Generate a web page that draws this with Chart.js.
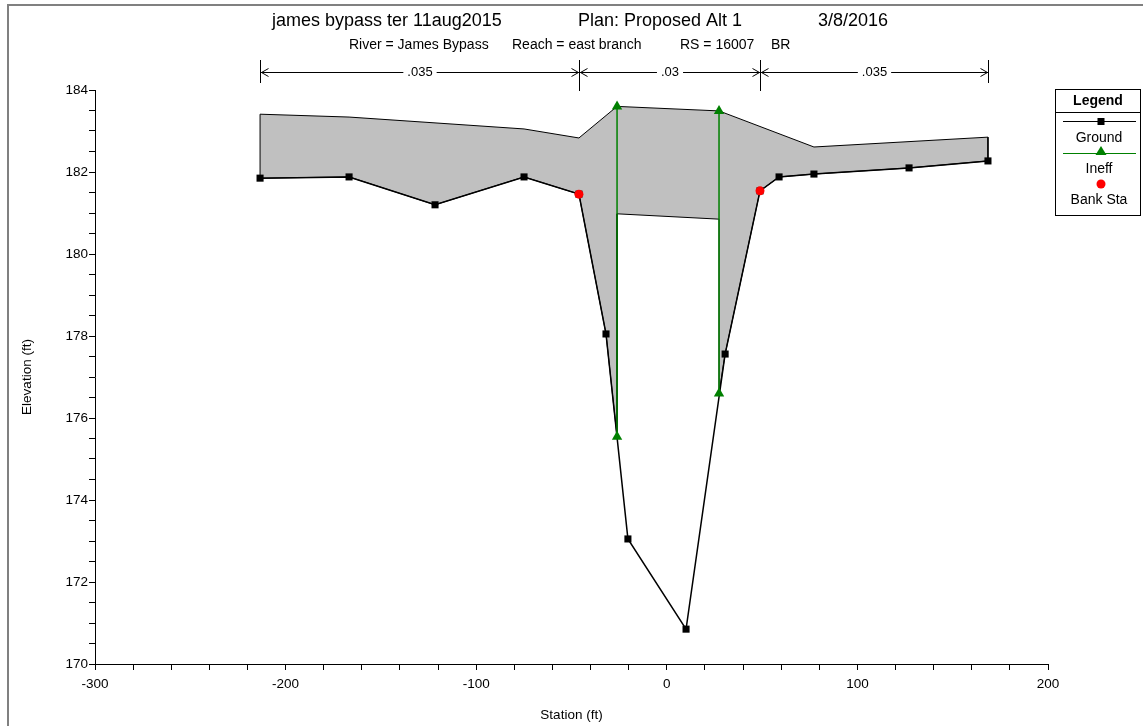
<!DOCTYPE html>
<html>
<head>
<meta charset="utf-8">
<script src="https://cdn.jsdelivr.net/npm/chart.js@4.4.1/dist/chart.umd.min.js"></script>
<style>
  html, body { margin: 0; padding: 0; background: #fff; }
  #xs { display: block; }
</style>
</head>
<body>
<canvas id="xs" width="1143" height="726"></canvas>
<script>
// cross section, station (ft) / elevation (ft)
const groundSta = [-213.4, -166.7, -121.6, -74.9, -46.1, -31.9, -20.4, 10.1, 30.6, 48.9, 58.9, 77.2, 127.1, 168.5];
const groundElev = [181.85, 181.88, 181.2, 181.88, 181.46, 178.05, 173.05, 170.85, 177.56, 181.54, 181.88, 181.95, 182.1, 182.27];
const bankSta = [-46.1, 48.9];
const bankElev = [181.46, 181.54];
const ineffSta = [-26.1, 27.4];
const ineffLow = [175.54, 176.6];
const ineffHigh = [183.6, 183.49];
// bridge deck: high chord along the top, low chord inside the opening
const deckSta = [-213.4, -166.7, -74.9, -46.1, -26.1, 27.4, 77.2, 168.5];
const deckHigh = [183.41, 183.34, 183.05, 182.83, 183.6, 183.49, 182.61, 182.85];
const lowChordSta = [-26.1, 27.4];
const lowChordElev = [180.98, 180.85];
// manning's n regions
const manningN = ['.035', '.03', '.035'];
const manningBreaks = [-213.4, -46.1, 48.9, 168.5];

const FONT = "'Liberation Sans', Arial, sans-serif";
Chart.defaults.font.family = FONT;
Chart.defaults.color = '#000';

const groundPts = groundSta.map((s, i) => ({ x: s, y: groundElev[i] }));
const bankPts = bankSta.map((s, i) => ({ x: s, y: bankElev[i] }));
// two vertical ineffective lines, split by a gap
const ineffPts = [];
ineffSta.forEach((s, i) => {
    if (i > 0) ineffPts.push({ x: s, y: null });
    ineffPts.push({ x: s, y: ineffLow[i] });
    ineffPts.push({ x: s, y: ineffHigh[i] });
});

// deck outline: high chord, then back along ground / low chord
const deckPts = deckSta.map((s, i) => ({ x: s, y: deckHigh[i] }));
for (let i = groundSta.length - 1; i >= 0; i--) {
    if (groundSta[i] > ineffSta[1]) deckPts.push({ x: groundSta[i], y: groundElev[i] });
}
deckPts.push({ x: ineffSta[1], y: ineffLow[1] });
deckPts.push({ x: lowChordSta[1], y: lowChordElev[1] });
deckPts.push({ x: lowChordSta[0], y: lowChordElev[0] });
deckPts.push({ x: ineffSta[0], y: ineffLow[0] });
for (let i = groundSta.length - 1; i >= 0; i--) {
    if (groundSta[i] < ineffSta[0]) deckPts.push({ x: groundSta[i], y: groundElev[i] });
}
deckPts.push(deckPts[0]);

const decor = {
    id: 'decor',
    beforeDraw(chart) {
        const ctx = chart.ctx;
        ctx.save();
        ctx.fillStyle = '#fff';
        ctx.fillRect(0, 0, chart.width, chart.height);
        ctx.fillStyle = '#808080';
        ctx.fillRect(7, 4, chart.width - 7, 2);
        ctx.fillRect(7, 4, 2, chart.height - 4);
        ctx.restore();
    },
    afterDraw(chart) {
        const ctx = chart.ctx;
        const xs = chart.scales.x;
        ctx.save();
        ctx.fillStyle = '#000';
        ctx.textBaseline = 'middle';

        // titles
        ctx.font = '18px ' + FONT;
        ctx.textAlign = 'left';
        ctx.fillText('james bypass ter 11aug2015', 272, 21);
        ctx.fillText('Plan: Proposed Alt 1', 578, 21);
        ctx.fillText('3/8/2016', 818, 21);
        ctx.font = '14px ' + FONT;
        ctx.fillText('River = James Bypass', 349, 45);
        ctx.fillText('Reach = east branch', 512, 45);
        ctx.fillText('RS = 16007', 680, 45);
        ctx.fillText('BR', 771, 45);

        // manning's n brackets
        const yb = 72.5;
        ctx.strokeStyle = '#000';
        ctx.lineWidth = 1;
        ctx.font = '13px ' + FONT;
        ctx.textAlign = 'center';
        manningBreaks.forEach((s, i) => {
            const px = Math.round(xs.getPixelForValue(s)) + 0.5;
            const inner = i > 0 && i < manningBreaks.length - 1;
            ctx.beginPath();
            ctx.moveTo(px, 60);
            ctx.lineTo(px, inner ? 91 : 83);
            ctx.stroke();
        });
        manningN.forEach((n, i) => {
            const x0 = Math.round(xs.getPixelForValue(manningBreaks[i])) + 0.5;
            const x1 = Math.round(xs.getPixelForValue(manningBreaks[i + 1])) + 0.5;
            const mid = (x0 + x1) / 2;
            const w = ctx.measureText(n).width;
            ctx.beginPath();
            ctx.moveTo(x0, yb); ctx.lineTo(mid - w / 2 - 4, yb);
            ctx.moveTo(mid + w / 2 + 4, yb); ctx.lineTo(x1, yb);
            // arrow heads
            ctx.moveTo(x0 + 8, yb - 4); ctx.lineTo(x0 + 1, yb); ctx.lineTo(x0 + 8, yb + 4);
            ctx.moveTo(x1 - 8, yb - 4); ctx.lineTo(x1 - 1, yb); ctx.lineTo(x1 - 8, yb + 4);
            ctx.stroke();
            ctx.fillText(n, mid, yb);
        });

        // legend box
        ctx.strokeRect(1055.5, 89.5, 85, 126);
        ctx.beginPath();
        ctx.moveTo(1055.5, 112.5); ctx.lineTo(1140.5, 112.5);
        ctx.stroke();
        ctx.font = 'bold 14px ' + FONT;
        ctx.fillText('Legend', 1098, 101);
        ctx.font = '14px ' + FONT;
        ctx.beginPath();
        ctx.moveTo(1063, 121.5); ctx.lineTo(1136, 121.5);
        ctx.stroke();
        ctx.fillRect(1097.5, 118, 7, 7);
        ctx.fillText('Ground', 1099, 138);
        ctx.strokeStyle = '#008000';
        ctx.beginPath();
        ctx.moveTo(1063, 153.5); ctx.lineTo(1136, 153.5);
        ctx.stroke();
        ctx.fillStyle = '#008000';
        ctx.beginPath();
        ctx.moveTo(1101, 146); ctx.lineTo(1106.5, 155); ctx.lineTo(1095.5, 155);
        ctx.closePath();
        ctx.fill();
        ctx.fillStyle = '#000';
        ctx.fillText('Ineff', 1099, 169);
        ctx.fillStyle = '#ff0000';
        ctx.beginPath();
        ctx.arc(1101, 184, 4.5, 0, Math.PI * 2);
        ctx.fill();
        ctx.fillStyle = '#000';
        ctx.fillText('Bank Sta', 1099, 200);
        ctx.restore();
    }
};

new Chart(document.getElementById('xs'), {
    type: 'scatter',
    data: {
        datasets: [
            {
                label: 'Bank Sta',
                data: bankPts,
                showLine: false,
                pointStyle: 'circle',
                pointRadius: 4.5,
                backgroundColor: '#ff0000',
                borderColor: '#ff0000',
                pointBorderWidth: 0
            },
            {
                label: 'Ineff',
                data: ineffPts,
                showLine: true,
                spanGaps: false,
                borderColor: '#008000',
                borderWidth: 1.5,
                pointStyle: 'triangle',
                pointRadius: 6,
                backgroundColor: '#008000',
                pointBorderWidth: 0
            },
            {
                label: 'Ground',
                data: groundPts,
                showLine: true,
                borderColor: '#000',
                borderWidth: 1.5,
                pointStyle: 'rect',
                pointRadius: 5,
                backgroundColor: '#000',
                pointBorderWidth: 0
            },
            {
                label: 'Deck',
                data: deckPts,
                showLine: true,
                fill: 'shape',
                borderColor: '#000',
                borderWidth: 1,
                backgroundColor: '#c0c0c0',
                pointRadius: 0
            }
        ]
    },
    options: {
        responsive: false,
        animation: false,
        events: [],
        layout: { padding: { left: 0, top: 90, right: 95, bottom: 0 } },
        plugins: {
            legend: { display: false },
            tooltip: { enabled: false }
        },
        scales: {
            x: {
                type: 'linear',
                min: -300,
                max: 200,
                afterFit(scale) { scale.height = 62; },
                border: { color: '#000', width: 1 },
                grid: { drawOnChartArea: false, drawTicks: true, tickLength: 6, color: '#000' },
                ticks: {
                    stepSize: 20,
                    autoSkip: false,
                    maxRotation: 0,
                    padding: 6,
                    font: { size: 13.5 },
                    callback: v => (v % 100 === 0 ? String(v) : '')
                },
                title: { display: true, text: 'Station (ft)', font: { size: 13.5 }, padding: { top: 0, bottom: 3 } }
            },
            y: {
                type: 'linear',
                min: 170,
                max: 184,
                afterFit(scale) { scale.width = 95; },
                border: { color: '#000', width: 1 },
                grid: { drawOnChartArea: false, drawTicks: true, tickLength: 6, color: '#000' },
                ticks: {
                    stepSize: 0.5,
                    autoSkip: false,
                    padding: 1,
                    font: { size: 13.5 },
                    callback: v => (Math.abs(v % 2) < 1e-9 ? String(v) : '')
                },
                title: { display: true, text: 'Elevation (ft)', font: { size: 13.5 }, padding: { top: 19, bottom: 0 } }
            }
        }
    },
    plugins: [decor]
});
</script>
</body>
</html>
